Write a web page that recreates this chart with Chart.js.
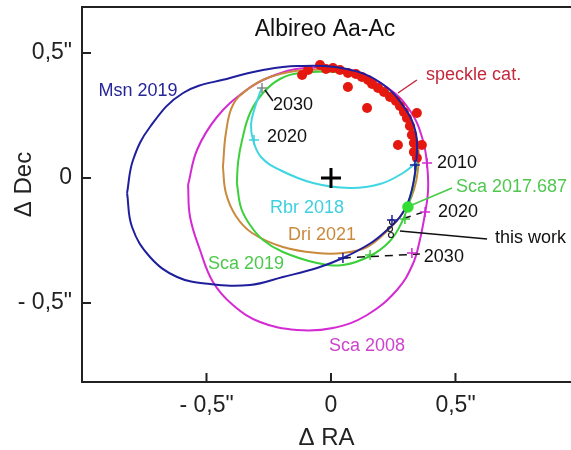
<!DOCTYPE html>
<html>
<head>
<meta charset="utf-8">
<script src="https://cdn.jsdelivr.net/npm/chart.js@4"></script>
<style>
  html, body { margin: 0; padding: 0; background: #fff; }
  #wrap { width: 571px; height: 450px; }
</style>
</head>
<body>
<div id="wrap"><canvas id="chart"></canvas></div>
<script>
// relative orbits of Albireo Ac around Aa (arcsec: dRA, dDec)
const msn2019 = [
  [-0.819, -0.060], [-0.799, -0.196], [-0.727, -0.316], [-0.618, -0.396], [-0.486, -0.424],
  [-0.325, -0.428], [-0.193, -0.396], [-0.056, -0.360], [0.048, -0.320], [0.157, -0.262],
  [0.225, -0.208], [0.277, -0.156], [0.317, -0.076], [0.341, 0.052], [0.341, 0.180],
  [0.293, 0.284], [0.201, 0.380], [0.064, 0.436], [-0.137, 0.448], [-0.273, 0.432],
  [-0.406, 0.400], [-0.594, 0.340], [-0.727, 0.204], [-0.795, 0.072], [-0.819, -0.060],
];
const sca2008 = [
  [-0.574, -0.028], [-0.566, -0.156], [-0.526, -0.288], [-0.474, -0.416], [-0.394, -0.508],
  [-0.285, -0.576], [-0.137, -0.608], [0.008, -0.600], [0.145, -0.548], [0.265, -0.448],
  [0.329, -0.344], [0.357, -0.248], [0.378, -0.140], [0.390, -0.048], [0.386, 0.052],
  [0.369, 0.152], [0.321, 0.264], [0.229, 0.360], [0.084, 0.424], [-0.104, 0.440],
  [-0.245, 0.404], [-0.345, 0.348], [-0.458, 0.244], [-0.538, 0.112], [-0.574, -0.028],
];
const dri2021 = [
  [-0.434, 0.044], [-0.422, -0.060], [-0.382, -0.152], [-0.317, -0.220], [-0.193, -0.276],
  [-0.056, -0.300], [0.048, -0.300], [0.145, -0.276], [0.225, -0.212], [0.297, -0.128],
  [0.333, -0.048], [0.349, 0.032], [0.349, 0.132], [0.305, 0.252], [0.217, 0.352],
  [0.076, 0.420], [-0.104, 0.432], [-0.245, 0.404], [-0.333, 0.356], [-0.394, 0.292],
  [-0.422, 0.180], [-0.434, 0.044],
];
const sca2019 = [
  [-0.378, -0.020], [-0.361, -0.120], [-0.325, -0.188], [-0.273, -0.248], [-0.193, -0.296],
  [-0.056, -0.340], [0.048, -0.348], [0.157, -0.312], [0.237, -0.252], [0.285, -0.176],
  [0.317, -0.088], [0.337, 0.008], [0.345, 0.112], [0.305, 0.252], [0.221, 0.352],
  [0.076, 0.416], [-0.124, 0.420], [-0.205, 0.396], [-0.273, 0.340], [-0.325, 0.260],
  [-0.357, 0.152], [-0.373, 0.064], [-0.378, -0.020],
];
const rbr2018 = [
  [-0.277, 0.364], [-0.305, 0.284], [-0.321, 0.216], [-0.313, 0.152], [-0.281, 0.084],
  [-0.205, 0.032], [-0.072, -0.020], [0.076, -0.040], [0.197, -0.024], [0.289, 0.020],
  [0.345, 0.064],
];
const speckle = [
  [-0.116, 0.412], [-0.092, 0.432], [-0.044, 0.452], [-0.020, 0.436], [0.008, 0.440],
  [0.036, 0.432], [0.068, 0.420], [0.068, 0.364], [0.100, 0.416], [0.124, 0.404],
  [0.149, 0.392], [0.165, 0.376], [0.189, 0.360], [0.213, 0.344], [0.237, 0.324],
  [0.261, 0.308], [0.145, 0.280], [0.277, 0.288], [0.293, 0.264], [0.305, 0.240],
  [0.345, 0.260], [0.317, 0.208], [0.325, 0.172], [0.269, 0.132], [0.365, 0.132],
  [0.333, 0.140], [0.333, 0.104], [0.345, 0.080],
];
// predicted positions 2010 / 2020 / 2030
const msnEpochs = [[0.337, 0.052], [0.245, -0.168], [0.048, -0.320]];
const scaEpochs = [[0.297, -0.164], [0.157, -0.308]];
const sca08Epochs = [[0.386, 0.060], [0.378, -0.136], [0.325, -0.300]];
const rbrEpochs = [[-0.309, 0.152]];
const rbr2030 = [[-0.277, 0.360]];
const thisWork = [[0.245, -0.176], [0.237, -0.204], [0.241, -0.228]];
const sca2017 = [[0.309, -0.116]];
const primary = [[0, 0]];
// leader lines to the labels
const speckleLead = [[0.269, 0.340], [0.345, 0.392]];
const rbr2030Lead = [[-0.265, 0.352], [-0.233, 0.308]];
const sca2017Lead = [[0.325, -0.108], [0.486, -0.040]];
const thisWorkLead = [[0.277, -0.212], [0.627, -0.244]];
const lead2020 = [[0.297, -0.160], [0.386, -0.132]];
const lead2030 = [[0.048, -0.320], [0.357, -0.304]];

const tickValues = [-0.5, 0, 0.5];
const tickLabels = ['- 0,5"', '0', '0,5"'];

// text: [string, x, y, color, align, font size]
const notes = [
  ['Albireo Aa-Ac', -0.024, 0.595, '#111', 'center', 23],
  ['Msn 2019', -0.775, 0.348, '#262699', 'center', 18],
  ['Rbr 2018', -0.096, -0.120, '#3fd0e0', 'center', 18],
  ['Dri 2021', -0.036, -0.228, '#c98a3e', 'center', 18],
  ['Sca 2019', -0.341, -0.344, '#4cc94c', 'center', 18],
  ['Sca 2008', 0.145, -0.672, '#cc44cc', 'center', 18],
  ['speckle cat.', 0.382, 0.412, '#c4283c', 'left', 18],
  ['Sca 2017.687', 0.502, -0.036, '#50c850', 'left', 18],
  ['2010', 0.426, 0.060, '#111', 'left', 18],
  ['2020', 0.430, -0.136, '#111', 'left', 18],
  ['this work', 0.659, -0.240, '#111', 'left', 18],
  ['2030', 0.373, -0.316, '#111', 'left', 18],
  ['2030', -0.233, 0.292, '#111', 'left', 18],
  ['2020', -0.257, 0.164, '#111', 'left', 18],
];

const pts = a => a.map(([x, y]) => ({ x, y }));

function orbit(arr, color, order) {
  return { data: pts(arr), showLine: true, borderColor: color, borderWidth: 2,
    pointRadius: 0, tension: 0.4, fill: false, order };
}
function marks(arr, color, style, r, order, w) {
  return { data: pts(arr), pointStyle: style, pointRadius: r, borderColor: color,
    backgroundColor: color, pointBorderWidth: w || 1.5, order };
}
function lead(arr, color, dash) {
  return { data: pts(arr), showLine: true, borderColor: color, borderWidth: 1.5,
    borderDash: dash || [], pointRadius: 0, order: 2 };
}

const decor = {
  id: 'decor',
  afterDraw(chart) {
    const { ctx, chartArea: a, scales: { x, y } } = chart;
    ctx.save();
    ctx.strokeStyle = '#222';
    ctx.lineWidth = 2;
    ctx.beginPath();
    ctx.moveTo(a.left, a.top);
    ctx.lineTo(a.right, a.top);
    tickValues.forEach(v => {
      const px = x.getPixelForValue(v);
      ctx.moveTo(px, a.bottom);
      ctx.lineTo(px, a.bottom - 9);
      const py = y.getPixelForValue(v);
      ctx.moveTo(a.left, py);
      ctx.lineTo(a.left + 9, py);
    });
    ctx.stroke();
    ctx.textBaseline = 'middle';
    notes.forEach(([t, vx, vy, c, al, sz]) => {
      ctx.fillStyle = c;
      ctx.textAlign = al;
      ctx.font = sz + 'px "Liberation Sans", Arial, sans-serif';
      ctx.fillText(t, x.getPixelForValue(vx), y.getPixelForValue(vy));
    });
    ctx.restore();
  }
};

const axisFont = { family: '"Liberation Sans", Arial, sans-serif', size: 23 };

new Chart(document.getElementById('chart'), {
  type: 'scatter',
  data: {
    datasets: [
      marks(primary, '#000', 'cross', 10, 0, 3),
      marks(msnEpochs, '#1f1f9e', 'cross', 5, 1),
      marks(scaEpochs, '#3cc83c', 'cross', 5, 1),
      marks(sca08Epochs, '#d22ad2', 'cross', 5, 1),
      marks(rbrEpochs, '#3fd0e0', 'cross', 5, 1),
      marks(rbr2030, '#888', 'cross', 5, 1),
      { data: pts(thisWork), pointStyle: 'circle', pointRadius: 2.5, borderColor: '#222',
        backgroundColor: 'rgba(0,0,0,0)', pointBorderWidth: 1.2, order: 1 },
      marks(sca2017, '#33dd33', 'circle', 5, 1),
      lead(speckleLead, '#c4283c'),
      lead(rbr2030Lead, '#111'),
      lead(sca2017Lead, '#44cc44'),
      lead(thisWorkLead, '#111'),
      lead(lead2020, '#111', [6, 6]),
      lead(lead2030, '#111', [8, 6]),
      orbit(rbr2018, '#3fd6e2', 3),
      orbit(msn2019, '#1f1f9e', 4),
      { data: pts(speckle), pointRadius: 5, pointBorderWidth: 0,
        backgroundColor: '#e5180f', borderColor: '#e5180f', order: 5 },
      orbit(sca2019, '#3cd03c', 6),
      orbit(dri2021, '#c98a3e', 7),
      orbit(sca2008, '#d42ad4', 8),
    ]
  },
  options: {
    responsive: true,
    maintainAspectRatio: false,
    animation: false,
    events: [],
    layout: { autoPadding: false, padding: { top: 7, right: 0, left: 0, bottom: 0 } },
    plugins: { legend: { display: false }, tooltip: { enabled: false } },
    scales: {
      x: {
        type: 'linear', min: -1.0, max: 0.964,
        afterFit: s => { s.height = 68; s.paddingLeft = 0; s.paddingRight = 0; },
        afterBuildTicks: s => { s.ticks = tickValues.map(v => ({ value: v })); },
        grid: { drawOnChartArea: false, drawTicks: false },
        border: { display: true, color: '#222', width: 2 },
        ticks: { color: '#222', font: axisFont, padding: 10,
          callback: v => tickLabels[tickValues.indexOf(v)] },
        title: { display: true, text: '\u0394 RA', color: '#222',
          font: { family: axisFont.family, size: 24, lineHeight: 1 }, padding: { top: 0, bottom: 0 } }
      },
      y: {
        type: 'linear', min: -0.816, max: 0.684,
        afterFit: s => { s.width = 82; s.paddingTop = 0; s.paddingBottom = 0; },
        afterBuildTicks: s => { s.ticks = tickValues.map(v => ({ value: v })); },
        grid: { drawOnChartArea: false, drawTicks: false },
        border: { display: true, color: '#222', width: 2 },
        ticks: { color: '#222', font: axisFont, padding: 10,
          callback: v => tickLabels[tickValues.indexOf(v)] },
        // leading spaces lift the rotated title a little, as in the figure
        title: { display: true, text: '   \u0394 Dec', color: '#222',
          font: { family: axisFont.family, size: 24, lineHeight: 1 }, padding: { top: 12, bottom: 0 } }
      }
    }
  },
  plugins: [decor]
});
</script>
</body>
</html>
